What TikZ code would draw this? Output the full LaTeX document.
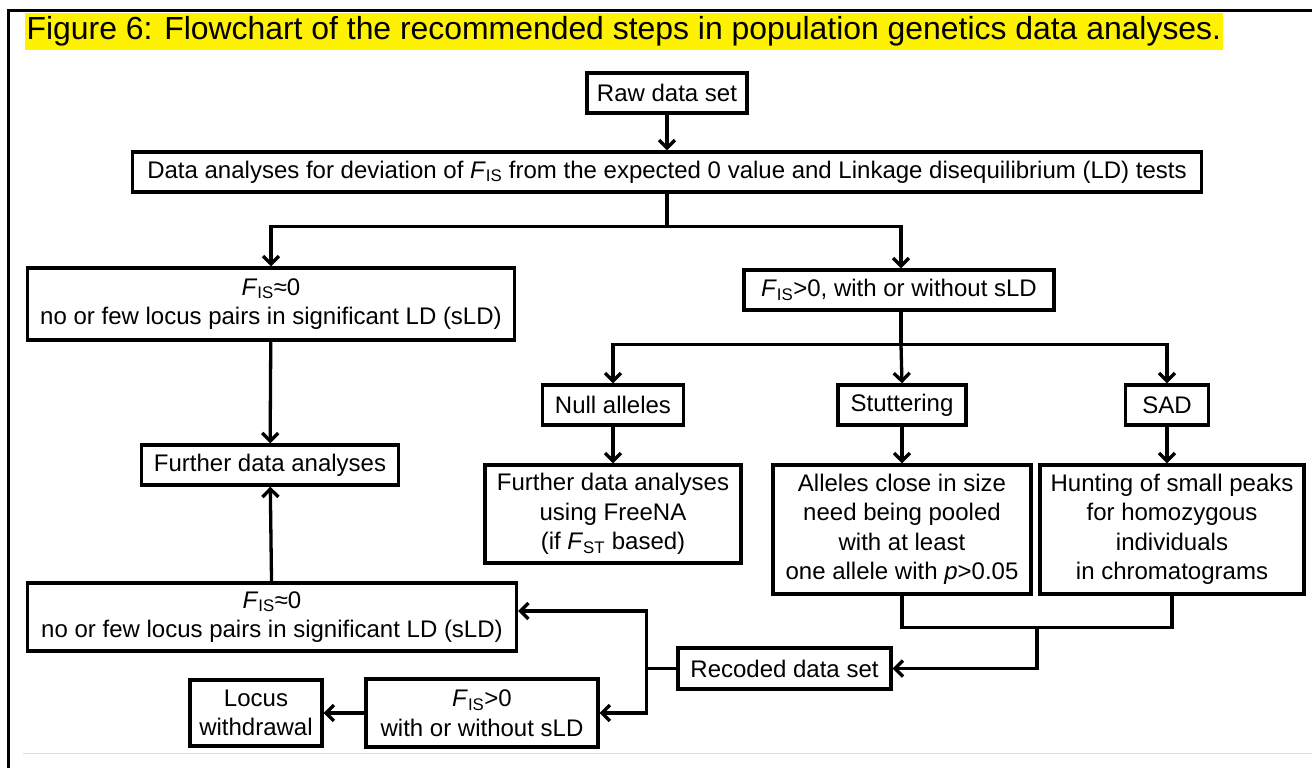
\documentclass[tikz,border=0pt]{standalone}
\usepackage{fontspec}
\setmainfont{Liberation Sans}
\usetikzlibrary{calc}
\usetikzlibrary{arrows.meta}
\newcommand{\Fis}{\textit{F}\textsubscript{IS}}
\newcommand{\Fst}{\textit{F}\textsubscript{ST}}

\begin{document}
\begin{tikzpicture}[x=1pt, y=-1pt, line width=3.3pt, >={Straight Barb[length=8pt, width=16pt]},
  box/.style={draw, inner sep=0, align=center, font=\fontsize{24}{29.5}\selectfont},
  ln/.style={line join=miter}]
\useasboundingbox (0,0) rectangle (1312,768);
% frame and caption
\draw[line width=3pt] (8,768) -- (8,11) -- (1312,11);
\draw[yellow, line width=1pt] (23,753) -- (1312,753);
\node[fill=yellow, inner xsep=2, inner ysep=0, minimum height=37, anchor=west,
  font=\fontsize{31.9}{34}\selectfont] (title) at (23,31.5)
  {Figure 6: Flowchart of the recommended steps in population genetics data analyses.};

% boxes
\node[box, minimum width=160, minimum height=40] (raw) at (667,93) {Raw data set};
\node[box, minimum width=1069, minimum height=40] (dev) at (667,172)
  {Data analyses for deviation of \Fis{} from the expected 0 value and Linkage disequilibrium (LD) tests};
\node[box, minimum width=487, minimum height=72] (fis0a) at (271,304)
  {\Fis{}\char"2248 0\\no or few locus pairs in significant LD (sLD)};
\node[box, minimum width=310, minimum height=40] (fisp) at (899,290) {\Fis{}>0, with or without sLD};
\node[box, minimum width=141, minimum height=40] (null) at (613,405) {Null alleles};
\node[box, minimum width=128, minimum height=40] (stut) at (902,405) {Stuttering};
\node[box, minimum width=83, minimum height=40] (sad) at (1167,405) {SAD};
\node[box, minimum width=257, minimum height=40] (further) at (270,465) {Further data analyses};
\node[box, minimum width=256, minimum height=98] (freena) at (613,514)
  {Further data analyses\\using FreeNA\\(if \Fst{} based)};
\node[box, minimum width=258, minimum height=129] (alleles) at (902,529.5)
  {Alleles close in size\\need being pooled\\with at least\\one allele with \textit{p}>0.05};
\node[box, minimum width=264, minimum height=129] (hunt) at (1172,529.5)
  {Hunting of small peaks\\for homozygous\\individuals\\in chromatograms};
\node[box, minimum width=489, minimum height=68] (fis0b) at (272,617)
  {\Fis{}\char"2248 0\\no or few locus pairs in significant LD (sLD)};
\node[box, minimum width=213, minimum height=41] (rec) at (784.5,668.5) {Recoded data set};
\node[box, minimum width=232, minimum height=68] (fisq) at (482,713) {\Fis{}>0\\with or without sLD};
\node[box, minimum width=132, minimum height=66] (locus) at (256,713) {Locus\\withdrawal};

% connectors
\draw[->] (raw) -- (dev);
\draw[ln] (dev.south) -- ++(0,33) coordinate (s1);
\draw[->, ln] (s1) -| (fis0a.north);
\draw[->, ln] (s1) -| ([xshift=2]fisp.north);
\draw[ln] ([xshift=2]fisp.south) -- ++(0,33) coordinate (s2);
\draw[->, ln] (s2) -| (null.north);
\draw[->, ln] (s2) -- (stut.north);
\draw[->, ln] (s2) -| (sad.north);
\draw[->] (fis0a) -- (further);
\draw[->] (null) -- (freena);
\draw[->] (stut) -- (alleles);
\draw[->] (sad) -- (sad |- hunt.north);
\draw[ln] (alleles.south) -- ++(0,32) coordinate (s3) -- (s3 -| hunt.south) -- (hunt.south);
\draw[->, ln] ($(s3)!.5!(s3 -| hunt.south)$) |- (rec.east);
\draw[ln] (rec.west) -- ++(-30,0) coordinate (s4);
\draw[->, ln] (s4) |- ([yshift=6]fis0b.east);
\draw[->, ln] (s4) |- (fisq.east);
\draw[->] (fisq) -- (locus);
\draw[->] (fis0b) -- (further);
\end{tikzpicture}
\end{document}
